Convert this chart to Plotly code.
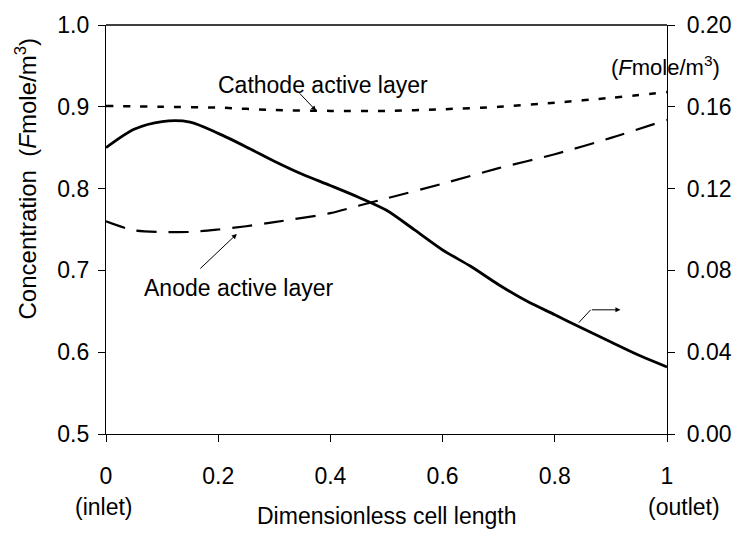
import plotly.graph_objects as go

# Data
x_solid = [0, 0.05, 0.1, 0.15, 0.2, 0.25, 0.3, 0.35, 0.4, 0.45, 0.5, 0.55, 0.6, 0.65, 0.7, 0.75, 0.8, 0.85, 0.9, 0.95, 1.0]
y_solid = [0.140, 0.149, 0.1528, 0.1525, 0.147, 0.1404, 0.1334, 0.127, 0.1215, 0.1158, 0.1094, 0.0998, 0.090, 0.0820, 0.0730, 0.0650, 0.0583, 0.0516, 0.0450, 0.0385, 0.0328]

x_cath = [0, 0.1, 0.2, 0.3, 0.4, 0.5, 0.6, 0.7, 0.8, 0.9, 1.0]
y_cath = [0.901, 0.900, 0.899, 0.896, 0.895, 0.895, 0.897, 0.900, 0.905, 0.911, 0.918]

x_anode = [0, 0.05, 0.1, 0.15, 0.2, 0.25, 0.3, 0.4, 0.45, 0.5, 0.6, 0.7, 0.8, 0.9, 1.0]
y_anode = [0.760, 0.749, 0.747, 0.747, 0.750, 0.754, 0.759, 0.770, 0.779, 0.788, 0.806, 0.825, 0.842, 0.862, 0.884]

x_ticks = [0, 0.2, 0.4, 0.6, 0.8, 1]
x_ticklabels = ["0", "0.2", "0.4", "0.6", "0.8", "1"]
y_ticks = [0.5, 0.6, 0.7, 0.8, 0.9, 1.0]
y2_ticks = [0.0, 0.04, 0.08, 0.12, 0.16, 0.20]

FONT = "Liberation Sans, Arial, sans-serif"
FS = 23

fig = go.Figure()
fig.add_trace(go.Scatter(x=x_cath, y=y_cath, mode="lines",
                         line=dict(color="black", width=2.5, dash="7px,10px", shape="spline", smoothing=0.8), yaxis="y"))
fig.add_trace(go.Scatter(x=x_anode, y=y_anode, mode="lines",
                         line=dict(color="black", width=2.2, dash="20px,12px", shape="spline", smoothing=0.8), yaxis="y"))
fig.add_trace(go.Scatter(x=x_solid, y=y_solid, mode="lines",
                         line=dict(color="black", width=2.8, shape="spline", smoothing=0.8), yaxis="y2"))

# plot geometry helpers (pixel -> paper) for annotations
L, R, T, B = 106, 672, 19, 434
def px(p):
    return (p - L) / (R - L)
def py(p):
    return (B - p) / (B - T)

fig.update_layout(
    width=744, height=538,
    margin=dict(l=L, r=744 - R, t=T, b=538 - B),
    paper_bgcolor="white", plot_bgcolor="white",
    showlegend=False,
    font=dict(family=FONT, color="black", size=FS),
    xaxis=dict(range=[0, 1], tickvals=x_ticks, ticktext=x_ticklabels, ticks="outside", ticklen=7,
               tickcolor="black", showline=True, linecolor="black", linewidth=1.3,
               showgrid=False, zeroline=False, tickfont=dict(size=FS), ticklabelstandoff=14),
    yaxis=dict(range=[0.5, 1.0], tickvals=y_ticks, tickformat=".1f", ticks="outside", ticklen=7,
               tickcolor="black", showline=True, linecolor="black", linewidth=1.3,
               showgrid=False, zeroline=False, tickfont=dict(size=FS), ticklabelstandoff=4),
    yaxis2=dict(range=[0.0, 0.2], tickvals=y2_ticks, tickformat=".2f", overlaying="y", side="right",
                ticks="outside", ticklen=7, tickcolor="black", showline=True, linecolor="black",
                linewidth=1.3, showgrid=False, zeroline=False, tickfont=dict(size=FS), ticklabelstandoff=7),
)

# top border
fig.add_shape(type="line", xref="paper", yref="paper", x0=0, x1=1, y0=1, y1=1, line=dict(color="black", width=1.3))

def txt(t, x, y, size=FS, **kw):
    return dict(text=t, x=px(x), y=py(y), xref="paper", yref="paper", showarrow=False,
                font=dict(size=size), xanchor="center", yanchor="middle", **kw)

def arrow(x0, y0, x1, y1):
    return dict(text="", x=px(x1), y=py(y1), ax=x0 - x1, ay=y0 - y1, xref="paper", yref="paper",
                axref="pixel", ayref="pixel", showarrow=True, arrowhead=2, arrowsize=1,
                arrowwidth=1, arrowcolor="black", standoff=0, startstandoff=0)

annots = [
    txt("Cathode active layer", 325, 80),
    txt("Anode active layer", 240, 286),
    txt("Concentration  (<i>F</i>mole/m<sup>3</sup>)", 25, 175, size=24, textangle=-90),
    txt("(<i>F</i>mole/m<sup>3</sup>)", 670, 61, size=22),
    txt("Dimensionless cell length", 390, 517),
    txt("(inlet)", 104, 508),
    txt("(outlet)", 689, 508),
    arrow(300, 87, 318, 106),
    arrow(200, 267, 238, 231),
    arrow(595, 308, 625, 308),
]
fig.update_layout(annotations=annots)
fig.add_shape(type="line", xref="paper", yref="paper", x0=px(583), y0=py(321), x1=px(595), y1=py(308),
              line=dict(color="black", width=1))

fig.write_html("out.html")
